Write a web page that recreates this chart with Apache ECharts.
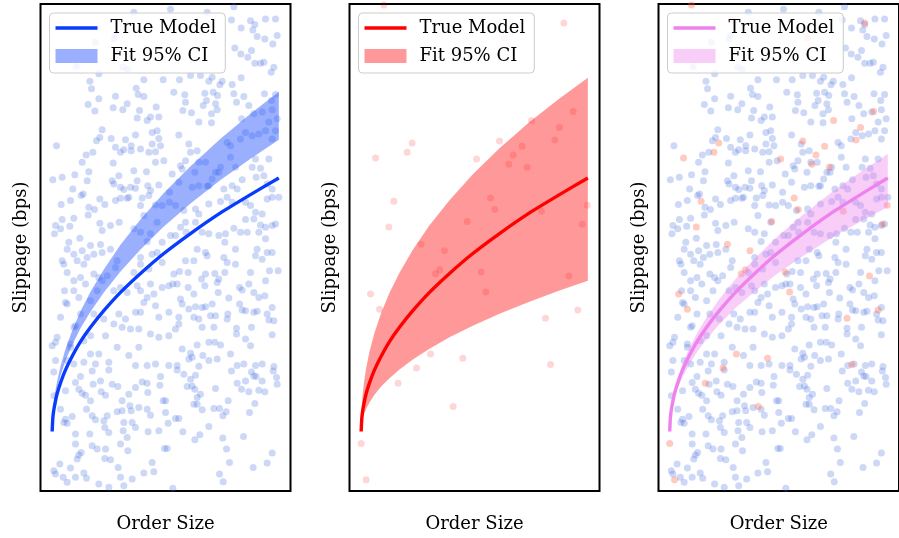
<!DOCTYPE html>
<html>
<head>
<meta charset="utf-8">
<script src="https://cdn.jsdelivr.net/npm/echarts@6/dist/echarts.min.js"></script>
<style>
html,body{margin:0;padding:0;background:#ffffff;}
#chart{width:899px;height:538px;}
</style>
</head>
<body>
<div id="chart"></div>
<script>
// ---- data (order size and slippage in arbitrary units) ----
const modelX = [35,37,40,45,50,60,75,95,120,150,190,240,300,370,450,540,630,715];
const trueModel = [179,220,244,271,293,325,364,405,449,492,542,597,654,714,774,836,891,941];
const fitLower1 = [179,227,254,285,310,347,392,439,489,539,597,660,726,795,864,935,999,1056];
const fitUpper1 = [179,234,267,303,331,375,427,482,540,599,666,740,816,896,976,1059,1134,1200];
const fitLower2 = [179,204,218,234,247,266,289,314,339,365,395,428,462,497,533,569,603,632];
const fitUpper2 = [179,256,296,338,370,419,476,535,596,656,725,799,874,952,1030,1109,1180,1242];
const fitLower3 = [179,216,237,261,280,309,343,379,418,456,501,550,600,653,706,761,810,854];
const fitUpper3 = [179,224,250,280,303,339,382,427,474,522,577,637,699,764,830,898,959,1013];

const redPoints = [[103,1461],[228,1417],[643,1407],[465,1361],[78,1001],[173,1018],[188,1046],[381,998],[450,1052],[546,1114],[671,1141],[630,1093],[616,1055],[518,1036],[491,1010],[478,982],[533,973],[133,871],[118,794],[423,881],[436,846],[353,810],[576,841],[713,859],[698,802],[215,742],[285,722],[258,653],[271,665],[395,658],[409,598],[658,646],[63,592],[90,546],[588,519],[685,544],[243,412],[340,399],[201,370],[146,324],[603,380],[311,254],[35,143],[50,34]];

const bluePoints = [
[280,1439],[108,1276],[175,1254],[148,1232],[153,1209],[247,1274],[262,1267],[310,1236],[368,1236],[287,1211],[293,1192],[310,1186],[225,1187],[175,1179],[143,1162],[163,1142],[218,1152],[247,1146],[260,1164],[297,1144],[347,1154],[330,1124],[320,1114],[290,1121],[355,1124],[165,1349],[220,1359],[390,1448],[225,1370],
[580,1456],[500,1439],[573,1416],[602,1392],[630,1414],[643,1402],[675,1419],[705,1419],[637,1386],[650,1366],[673,1359],[710,1369],[697,1344],[583,1332],[601,1314],[622,1304],[633,1324],[643,1286],[660,1286],[670,1289],[700,1274],[692,1259],[602,1242],[575,1222],[545,1232],[538,1221],[515,1244],[505,1232],[480,1249],[450,1249],[417,1236],[400,1199],[433,1191],[435,1169],[427,1144],[453,1137],[493,1196],[498,1174],[488,1159],[518,1199],[531,1189],[525,1164],[530,1146],[513,1134],[580,1194],[588,1169],[610,1186],[625,1159],[672,1194],[693,1174],[640,1134],[665,1139],[695,1146],[705,1192],[710,1119],[685,1109],[475,1109],[513,1107],[603,1119],
[185,1086],[178,1063],[168,1053],[212,1060],[255,1056],[285,1070],[335,1078],[350,1083],[355,1060],[335,1043],[325,1018],[345,1020],[360,1038],[300,1028],[272,1038],[272,1023],[250,1026],[240,1018],[225,1033],[48,1038],[157,1018],[137,1010],[125,988],[145,960],[140,933],[103,951],[65,943],[37,936],[97,908],[128,893],[122,888],[90,873],[62,861],[178,878],[193,861],[218,986],[235,948],[215,933],[220,923],[240,913],[250,906],[270,913],[290,933],[285,910],[322,918],[355,920],[345,988],[370,993],[280,963],[318,960],[330,903],[325,888],[260,880],[240,880],[225,873],[265,883],[305,881],[300,858],[145,853],[162,846],[143,830],[100,820],[65,816],[45,798],[60,788],[42,773],[88,796],[178,805],[210,798],[236,808],[185,783],[118,760],[85,748],[150,738],[180,741],[365,748],[350,808],[310,828],[280,788],[300,778],[320,750],[330,773],[345,860],[365,858],
[415,1070],[445,1043],[450,1018],[470,1023],[435,993],[420,978],[425,968],[475,988],[495,988],[463,958],[395,953],[415,928],[387,898],[405,858],[387,868],[430,843],[465,848],[505,863],[455,913],[475,918],[500,916],[515,938],[525,958],[540,973],[550,908],[575,918],[590,908],[605,936],[585,973],[570,1003],[570,1038],[600,1058],[615,1078],[635,1068],[655,1073],[675,1083],[695,1058],[705,1083],[685,998],[645,998],[635,973],[660,970],[670,948],[647,943],[680,923],[695,908],[715,883],[695,883],[680,878],[665,833],[645,838],[630,858],[615,868],[575,868],[560,883],[540,870],[475,833],[465,808],[435,808],[437,778],[420,793],[405,768],[390,768],[485,778],[505,773],[535,768],[555,773],[580,790],[600,778],[615,816],[640,818],[620,778],[655,778],[660,800],[675,793],[695,798],[705,803],[675,758],[553,748],[560,1048],[535,958],[505,918],
[80,727],[100,712],[125,722],[140,702],[160,712],[185,717],[210,727],[65,692],[70,682],[110,692],[130,682],[80,657],[100,632],[120,642],[160,652],[175,642],[135,622],[72,602],[100,602],[75,567],[80,562],[60,522],[115,582],[200,647],[225,672],[300,702],[300,682],[335,712],[350,717],[365,687],[325,667],[280,657],[240,612],[220,602],[260,597],[290,617],[300,602],[330,622],[340,592],[365,612],[320,582],[310,567],[345,557],[355,522],[300,537],[285,537],[255,517],[235,532],[220,502],[245,492],[270,487],[295,487],[330,472],[355,462],[160,532],[190,517],[105,497],[50,462],[45,447],[35,437],[90,442],[130,452],[150,467],[195,467],[295,432],[265,407],[230,432],[175,412],[150,412],[130,387],[100,382],[80,392],[45,392],[205,387],[165,382],[285,377],[320,377],[345,382],[100,492],[90,432],[120,532],[150,572],[170,602],[185,632],[230,692],
[470,727],[495,717],[500,707],[550,702],[560,687],[585,682],[585,727],[645,707],[665,697],[680,717],[695,717],[650,727],[435,692],[460,692],[400,652],[417,660],[443,657],[483,637],[495,652],[523,654],[535,637],[530,627],[553,657],[630,657],[675,632],[687,662],[713,662],[385,617],[397,622],[410,622],[443,612],[460,592],[493,617],[533,597],[597,612],[605,604],[640,597],[655,582],[673,587],[625,622],[420,577],[425,562],[445,547],[465,554],[485,552],[495,554],[515,562],[565,580],[597,562],[605,544],[615,542],[640,537],[650,540],[695,552],[680,532],[685,514],[700,512],[385,537],[415,522],[415,502],[460,522],[475,517],[485,492],[510,527],[525,527],[520,492],[562,532],[560,517],[588,489],[588,472],[633,492],[615,457],[630,437],[695,470],[385,467],[405,487],[505,447],[523,447],[540,439],[470,439],[425,427],[450,414],[455,402],[487,407],[445,397],[530,397],[505,392],[570,412],[590,377],[610,382],[645,377],[665,382],[700,374],[385,377],[410,377],[475,375],
[40,358],[120,344],[155,361],[205,364],[105,326],[115,306],[158,321],[180,331],[215,321],[232,314],[265,291],[285,311],[305,328],[320,324],[322,296],[360,344],[358,318],[368,271],[75,301],[40,286],[125,294],[135,288],[150,271],[138,246],[182,298],[195,288],[245,271],[268,256],[272,241],[295,251],[230,238],[245,241],[320,246],[330,228],[60,246],[75,216],[70,206],[80,204],[95,224],[105,171],[148,171],[155,226],[165,214],[190,211],[200,226],[193,191],[205,176],[250,206],[275,206],[285,191],[248,181],[260,161],[240,141],[323,178],[355,181],[372,128],[105,141],[122,116],[115,108],[110,96],[155,136],[170,126],[195,126],[193,98],[210,94],[262,121],[335,86],[340,58],[310,54],[275,36],[240,41],[250,16],[233,71],[205,11],[175,21],[130,54],[138,38],[105,41],[90,69],[80,26],[68,41],[58,81],[40,61],[45,51],
[410,364],[430,351],[465,348],[450,336],[440,314],[455,316],[463,306],[480,291],[470,281],[460,261],[470,261],[485,244],[375,271],[375,236],[383,204],[405,218],[415,218],[427,178],[380,128],[463,154],[478,169],[505,194],[520,248],[537,248],[557,238],[547,226],[563,271],[525,308],[573,361],[633,358],[640,346],[647,344],[665,331],[615,331],[590,324],[603,306],[625,298],[655,303],[673,298],[643,263],[627,236],[708,341],[710,321],[698,361],[547,159],[558,126],[567,86],[609,164],[638,71],[680,84],[695,114],[537,51],[548,28],[397,8]
];

const legendNames = ['True Model', 'Fit 95% CI'];
const xName = 'Order Size';
const yName = 'Slippage (bps)';

// ---- styling ----
const FONT = 'DejaVu Serif';
const panelLeft = [40.5, 349.5, 658.5];
const lineColors = ['#0a3cff', '#ff0000', '#ee82ee'];
const bandColors = ['rgba(30,80,255,0.45)', 'rgba(255,0,0,0.4)', 'rgba(238,130,238,0.4)'];
const lowers = [fitLower1, fitLower2, fitLower3];
const uppers = [fitUpper1, fitUpper2, fitUpper3];
const BLUE_PT = 'rgba(65,105,225,0.33)';
const RED_PT = ['rgba(255,0,0,0.2)', 'rgba(255,90,60,0.4)'];
// thin horizontal bar centred in a 42x14 box (tiny invisible corners fix the bounding box)
const LINE_ICON = 'path://M0,0L0.01,0L0,0.01Z M0,5.3L42,5.3L42,8.7L0,8.7Z M42,14L41.99,14L42,13.99Z';

const grids = [], xAxes = [], yAxes = [], series = [], legends = [];
const axisBase = {
  type: 'value',
  axisLine: {show: false}, axisTick: {show: false}, axisLabel: {show: false}, splitLine: {show: false},
  nameLocation: 'middle',
  nameTextStyle: {fontFamily: FONT, fontSize: 18, color: '#000'}
};

for (let i = 0; i < 3; i++) {
  grids.push({left: panelLeft[i], top: 4, width: 250, height: 488, show: true,
    borderColor: '#000', borderWidth: 2, backgroundColor: 'rgba(0,0,0,0)'});
  xAxes.push(Object.assign({}, axisBase, {gridIndex: i, min: 0, max: 750, name: xName, nameGap: 24}));
  yAxes.push(Object.assign({}, axisBase, {gridIndex: i, min: 0, max: 1464, name: yName, nameGap: 10}));

  if (i === 0 || i === 2) {
    series.push({type: 'scatter', xAxisIndex: i, yAxisIndex: i, data: bluePoints, symbolSize: 7,
      itemStyle: {color: BLUE_PT}, silent: true, z: 1});
  }
  if (i === 1 || i === 2) {
    series.push({type: 'scatter', xAxisIndex: i, yAxisIndex: i, data: redPoints, symbolSize: 7,
      itemStyle: {color: RED_PT[i === 1 ? 0 : 1]}, silent: true, z: 1});
  }
  const lo = lowers[i], up = uppers[i], col = bandColors[i];
  series.push({
    type: 'custom', name: legendNames[1] + '#' + i, xAxisIndex: i, yAxisIndex: i,
    data: [[modelX[0], lo[0]]], silent: true, z: 2, clip: true,
    itemStyle: {color: col},
    renderItem: function (params, api) {
      const pts = [];
      for (let k = 0; k < modelX.length; k++) pts.push(api.coord([modelX[k], up[k]]));
      for (let k = modelX.length - 1; k >= 0; k--) pts.push(api.coord([modelX[k], lo[k]]));
      return {type: 'polygon', shape: {points: pts}, style: {fill: col}};
    }
  });
  series.push({type: 'line', name: legendNames[0] + '#' + i, xAxisIndex: i, yAxisIndex: i,
    data: modelX.map((x, k) => [x, trueModel[k]]), symbol: 'none', showSymbol: false, smooth: 0.2,
    color: lineColors[i], lineStyle: {color: lineColors[i], width: 3.4}, silent: true, z: 3});

  legends.push({
    left: panelLeft[i] + 9, top: 13, orient: 'vertical', selectedMode: false,
    itemWidth: 42, itemHeight: 14, itemGap: 10, padding: [6, 9, 8, 6],
    backgroundColor: 'rgba(255,255,255,0.8)', borderColor: '#cccccc', borderWidth: 1, borderRadius: 4,
    textStyle: {fontFamily: FONT, fontSize: 18, color: '#000', padding: [0, 0, 0, 8]},
    formatter: n => n.split('#')[0],
    data: [
      {name: legendNames[0] + '#' + i, icon: LINE_ICON, itemStyle: {color: lineColors[i], borderWidth: 0}},
      {name: legendNames[1] + '#' + i, icon: 'rect', itemStyle: {color: col, borderWidth: 0}}
    ]
  });
}

const chart = echarts.init(document.getElementById('chart'), null, {renderer: 'canvas'});
chart.setOption({
  animation: false,
  backgroundColor: '#ffffff',
  grid: grids, xAxis: xAxes, yAxis: yAxes, legend: legends, series: series
});
</script>
</body>
</html>
